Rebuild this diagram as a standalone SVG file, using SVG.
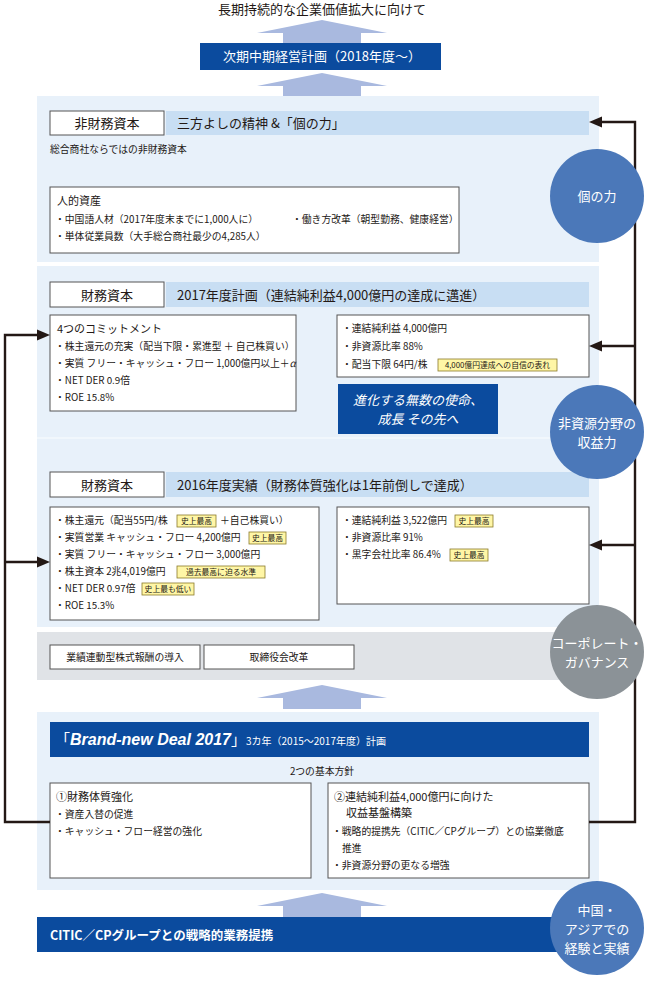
<svg xmlns="http://www.w3.org/2000/svg" width="650" height="982" viewBox="0 0 650 982">
<style>
text{font-family:"Noto Sans CJK JP","Noto Sans",sans-serif;fill:#231815}
.t13{font-size:13px}
.t10{font-size:9.8px}
.t11{font-size:11px}
.w{fill:#ffffff}
.sec{fill:#e8f1fa}
.band{fill:#c8def3}
.box{fill:#ffffff;stroke:#555555;stroke-width:1}
.dk{fill:#0b4b9e}
.circ{fill:#4b78b9}
.tag{fill:#fff6a6;stroke:#8a7a2a;stroke-width:0.8}
.tt{font-size:7.8px}
.ln{fill:none;stroke:#231815;stroke-width:2.4}
.ah{fill:#231815}
.up{fill:#a9b9df}
</style>
<defs>
<path id="uparrow" d="M0,0 L65,13 L39,13 L39,24 L-39,24 L-39,13 L-65,13 Z"/>
</defs>

<g id="title"><text x="322" y="14" class="t13" text-anchor="middle" font-size="13.5">長期持続的な企業価値拡大に向けて</text></g>

<g id="arrows-up" class="up">
<use href="#uparrow" x="322" y="20"/>
<use href="#uparrow" x="322" y="73"/>
<use href="#uparrow" x="322" y="441"/>
<use href="#uparrow" x="322" y="685"/>
<use href="#uparrow" x="322" y="893"/>
</g>

<g id="next-plan">
<rect x="200" y="43" width="241" height="27" class="dk"/>
<text x="322" y="61" class="t13 w" text-anchor="middle">次期中期経営計画（2018年度～）</text>
</g>

<!-- Section 1 -->
<g id="nonfinancial">
<rect x="37" y="96" width="562" height="166" class="sec"/>
<rect x="166" y="111" width="423" height="24" class="band"/>
<rect x="50" y="111" width="114" height="24" class="box"/>
<text x="107" y="128" class="t13" text-anchor="middle" font-size="12.5">非財務資本</text>
<text x="177" y="128" class="t13">三方よしの精神 &amp;「個の力」</text>
<text x="50" y="153" class="t10" font-size="10.5">総合商社ならではの非財務資本</text>
</g>
<g id="human-assets">
<rect x="50" y="187" width="409" height="66" class="box"/>
<text x="57" y="205" class="t11">人的資産</text>
<text x="55" y="223" class="t10">・中国語人材（2017年度末までに1,000人に）</text>
<text x="292" y="223" class="t10">・働き方改革（朝型勤務、健康経営）</text>
<text x="55" y="240" class="t10">・単体従業員数（大手総合商社最少の4,285人）</text>
</g>

<!-- Section 2 -->
<g id="financial-bg">
<rect x="37" y="266" width="562" height="361" class="sec"/>
<line x1="37" y1="438" x2="599" y2="438" stroke="#f4f8fd" stroke-width="1.5"/>
</g>
<g id="plan2017-header">
<rect x="166" y="282" width="423" height="25" class="band"/>
<rect x="50" y="282" width="114" height="25" class="box"/>
<text x="107" y="300" class="t13" text-anchor="middle" font-size="12.5">財務資本</text>
<text x="177" y="300" class="t13" font-size="12.5">2017年度計画（連結純利益4,000億円の達成に邁進）</text>
</g>
<g id="commitments">
<rect x="50" y="315" width="246" height="96" class="box"/>
<text x="57" y="333" class="t11">4つのコミットメント</text>
<text x="55" y="350" class="t10">・株主還元の充実（配当下限・累進型 ＋ 自己株買い）</text>
<text x="55" y="367" class="t10">・実質 フリー・キャッシュ・フロー 1,000億円以上＋<tspan font-style="italic">α</tspan></text>
<text x="55" y="384" class="t10">・NET DER 0.9倍</text>
<text x="55" y="401" class="t10">・ROE 15.8%</text>
</g>
<g id="plan2017-targets">
<rect x="337" y="315" width="252" height="62" class="box"/>
<text x="342" y="332" class="t10">・連結純利益 4,000億円</text>
<text x="342" y="350" class="t10">・非資源比率 88%</text>
<text x="342" y="368" class="t10">・配当下限 64円/株</text>
<rect x="438" y="359" width="119" height="12" class="tag"/>
<text x="497.5" y="368" class="tt" text-anchor="middle">4,000億円達成への自信の表れ</text>
</g>
<g id="slogan">
<rect x="338" y="384" width="160" height="50" class="dk"/>
<text x="418" y="405" class="t13 w" text-anchor="middle" font-style="italic">進化する無数の使命、</text>
<text x="418" y="424" class="t13 w" text-anchor="middle" font-style="italic">成長 その先へ</text>
</g>

<!-- Section 3 -->
<g id="result2016-header">
<rect x="166" y="472" width="423" height="25" class="band"/>
<rect x="50" y="472" width="114" height="25" class="box"/>
<text x="107" y="490" class="t13" text-anchor="middle" font-size="12.5">財務資本</text>
<text x="177" y="490" class="t13" font-size="12.5">2016年度実績（財務体質強化は1年前倒しで達成）</text>
</g>
<g id="result2016-left">
<rect x="50" y="507" width="269" height="113" class="box"/>
<text x="55" y="524" class="t10">・株主還元（配当55円/株</text>
<rect x="177" y="515" width="39" height="12" class="tag"/>
<text x="196.5" y="524" class="tt" text-anchor="middle">史上最高</text>
<text x="220" y="524" class="t10">＋自己株買い）</text>
<text x="55" y="541" class="t10">・実質営業 キャッシュ・フロー 4,200億円</text>
<rect x="249" y="532" width="37" height="12" class="tag"/>
<text x="267.5" y="541" class="tt" text-anchor="middle">史上最高</text>
<text x="55" y="558" class="t10">・実質 フリー・キャッシュ・フロー 3,000億円</text>
<text x="55" y="575" class="t10">・株主資本 2兆4,019億円</text>
<rect x="177" y="566" width="88" height="12" class="tag"/>
<text x="221" y="575" class="tt" text-anchor="middle">過去最高に迫る水準</text>
<text x="55" y="592" class="t10">・NET DER 0.97倍</text>
<rect x="142" y="583" width="52" height="12" class="tag"/>
<text x="168" y="592" class="tt" text-anchor="middle">史上最も低い</text>
<text x="55" y="609" class="t10">・ROE 15.3%</text>
</g>
<g id="result2016-right">
<rect x="337" y="507" width="252" height="97" class="box"/>
<text x="342" y="524" class="t10">・連結純利益 3,522億円</text>
<rect x="455" y="515" width="38" height="12" class="tag"/>
<text x="474" y="524" class="tt" text-anchor="middle">史上最高</text>
<text x="342" y="541" class="t10">・非資源比率 91%</text>
<text x="342" y="558" class="t10">・黒字会社比率 86.4%</text>
<rect x="450" y="549" width="38" height="12" class="tag"/>
<text x="469" y="558" class="tt" text-anchor="middle">史上最高</text>
</g>

<!-- Governance -->
<g id="governance">
<rect x="37" y="632" width="562" height="48" fill="#e0e3e7"/>
<rect x="50" y="645" width="150" height="24" class="box"/>
<text x="125" y="661" class="t10" text-anchor="middle">業績連動型株式報酬の導入</text>
<rect x="204" y="645" width="150" height="24" class="box"/>
<text x="279" y="661" class="t10" text-anchor="middle">取締役会改革</text>
</g>

<!-- Brand-new Deal -->
<g id="bnd">
<rect x="37" y="712" width="562" height="178" class="sec"/>
<rect x="50" y="722" width="539" height="35" class="dk"/>
<text x="55" y="745" class="w"><tspan font-size="15">「</tspan><tspan font-family="'Liberation Sans',Arial,sans-serif" font-weight="bold" font-style="italic" font-size="16">Brand-new Deal 2017</tspan><tspan font-size="15">」</tspan><tspan font-size="10">3カ年（2015～2017年度）計画</tspan></text>
<text x="322" y="775" class="t10" text-anchor="middle" font-size="10.5">2つの基本方針</text>
</g>
<g id="policy1">
<rect x="50" y="783" width="261" height="95" class="box"/>
<text x="56" y="801" class="t11">①財務体質強化</text>
<text x="55" y="818" class="t10">・資産入替の促進</text>
<text x="55" y="835" class="t10">・キャッシュ・フロー経営の強化</text>
</g>
<g id="policy2">
<rect x="328" y="783" width="261" height="95" class="box"/>
<text x="334" y="801" class="t11">②連結純利益4,000億円に向けた</text>
<text x="346" y="817" class="t11">収益基盤構築</text>
<text x="332" y="835" class="t10">・戦略的提携先（CITIC／CPグループ）との協業徹底</text>
<text x="342" y="852" class="t10">推進</text>
<text x="332" y="869" class="t10">・非資源分野の更なる増強</text>
</g>

<g id="citic">
<rect x="37" y="917" width="556" height="35" class="dk"/>
<text x="50" y="940" class="w" font-size="12.5" font-weight="bold">CITIC／CPグループとの戦略的業務提携</text>
</g>

<!-- connectors -->
<g id="connectors">
<polyline class="ln" points="601,122 635,122 635,822 589,822"/>
<line class="ln" x1="601" y1="346" x2="635" y2="346"/>
<line class="ln" x1="601" y1="545" x2="635" y2="545"/>
<polygon class="ah" points="589,122 602,116.5 602,127.5"/>
<polygon class="ah" points="589,346 602,340.5 602,351.5"/>
<polygon class="ah" points="589,545 602,539.5 602,550.5"/>
<polyline class="ln" points="50,822 5,822 5,335 38,335"/>
<line class="ln" x1="5" y1="562" x2="38" y2="562"/>
<polygon class="ah" points="50,335 37,329.5 37,340.5"/>
<polygon class="ah" points="50,562 37,556.5 37,567.5"/>
</g>

<g id="circle-kojin">
<circle cx="597" cy="196" r="47" class="circ"/>
<text x="597" y="201" class="t13 w" text-anchor="middle">個の力</text>
</g>
<g id="circle-nonresource">
<circle cx="597" cy="432" r="47" class="circ"/>
<text x="597" y="428" class="t13 w" text-anchor="middle">非資源分野の</text>
<text x="597" y="447" class="t13 w" text-anchor="middle">収益力</text>
</g>
<g id="circle-governance">
<circle cx="597" cy="652" r="47" fill="#8b9297"/>
<text x="597" y="648" class="t13 w" text-anchor="middle">コーポレート・</text>
<text x="597" y="667" class="t13 w" text-anchor="middle">ガバナンス</text>
</g>
<g id="circle-asia">
<circle cx="597" cy="928" r="47" class="circ"/>
<text x="597" y="915" class="t13 w" text-anchor="middle">中国・</text>
<text x="597" y="934" class="t13 w" text-anchor="middle">アジアでの</text>
<text x="597" y="953" class="t13 w" text-anchor="middle">経験と実績</text>
</g>
</svg>
